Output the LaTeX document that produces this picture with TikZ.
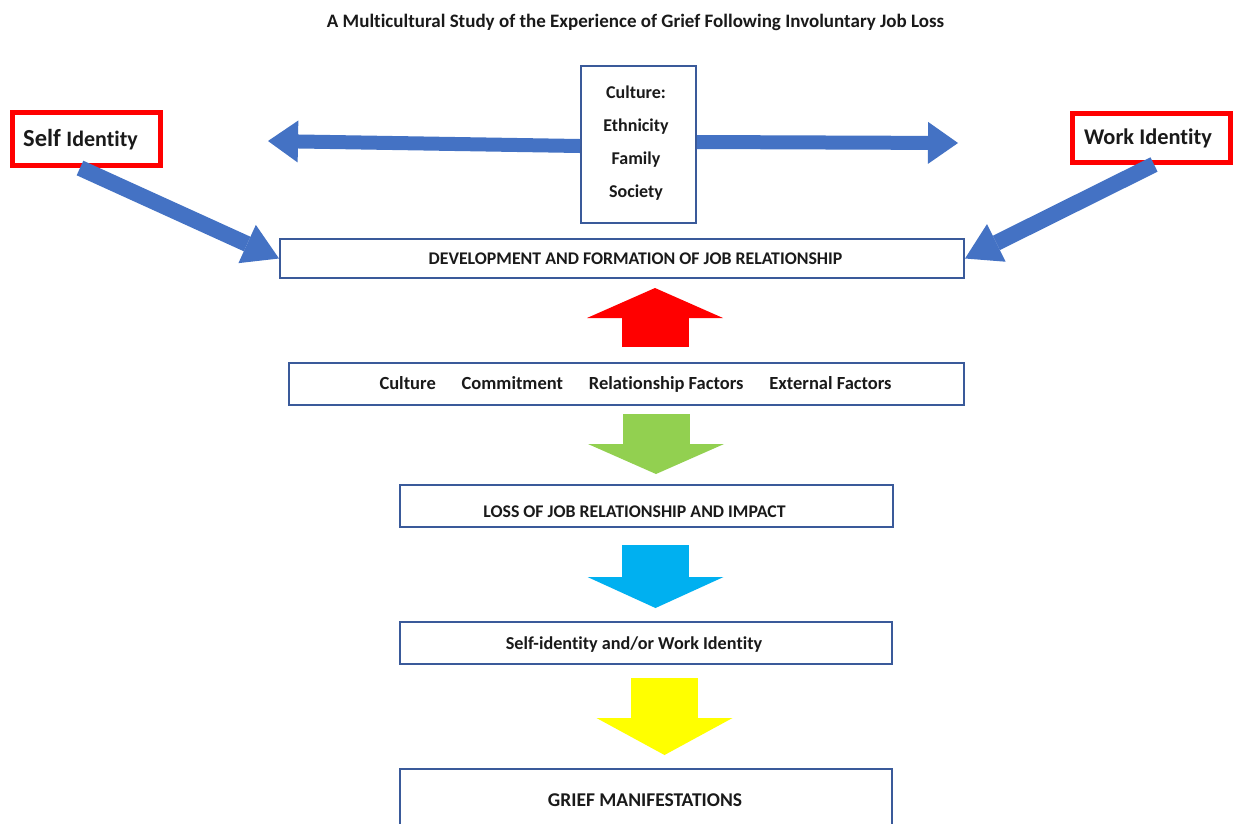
\documentclass[tikz,border=0pt]{standalone}
\usepackage{fontspec}
\setmainfont{Carlito}[Ligatures={NoCommon}]
\usetikzlibrary{arrows.meta}
\definecolor{boxblue}{HTML}{3A5A9A}
\definecolor{arrblue}{HTML}{4472C4}
\definecolor{arrred}{HTML}{FF0000}
\definecolor{arrgreen}{HTML}{92D050}
\definecolor{arrcyan}{HTML}{00B0F0}
\definecolor{arryellow}{HTML}{FFFF00}
\definecolor{txt}{HTML}{1A1A1A}
\tikzset{
  bluebox/.style={draw=boxblue,line width=2pt,fill=white,inner sep=0pt},
  redbox/.style={draw=arrred,line width=5pt,fill=white,inner sep=0pt},
  lbl/.style={inner sep=0pt,text=txt,font=\bfseries},
  thinarrow/.style={draw=arrblue,line width=14pt,-{Triangle[length=30pt,width=42pt,line width=0pt]}},
  diagarrow/.style={draw=arrblue,line width=16pt,-{Triangle[length=35pt,width=42pt,line width=0pt]}},
  blockarrow/.style={line width=67pt,-{Triangle[length=#1,width=136pt,line width=0pt]}}
}
\begin{document}
\begin{tikzpicture}[x=1pt,y=-1pt]
\useasboundingbox[fill=white] (0,0) rectangle (1233,823);
% title
\node[lbl,font=\bfseries\fontsize{19}{22}\selectfont] (title) at (635.5,22) {A Multicultural Study of the Experience of Grief Following Involuntary Job Loss};
% boxes
\node[bluebox,minimum width=115pt,minimum height=157pt] (culture) at (638.5,144.5) {};
\node[lbl,align=center,font=\bfseries\fontsize{18}{33}\selectfont] (cultureT) at (636,143) {Culture:\\Ethnicity\\Family\\Society};
\node[redbox,minimum width=148pt,minimum height=53pt] (selfid) at (86,139) {};
\node[lbl] (selfidT) at (80.5,140) {\fontsize{24.5}{28}\selectfont Self \fontsize{22}{28}\selectfont Identity};
\node[redbox,minimum width=158pt,minimum height=49pt] (workid) at (1151,137.5) {};
\node[lbl,font=\bfseries\fontsize{22.4}{26}\selectfont] (workidT) at (1148,138) {Work Identity};
\node[bluebox,minimum width=684pt,minimum height=39pt] (dev) at (622,258.5) {};
\node[lbl,font=\bfseries\fontsize{17.8}{20}\selectfont] (devT) at (635.5,259) {DEVELOPMENT AND FORMATION OF JOB RELATIONSHIP};
\node[bluebox,minimum width=675pt,minimum height=42pt] (factors) at (626.5,384) {};
\node[lbl,font=\bfseries\fontsize{18.5}{20}\selectfont] (factorsT) at (635.5,384) {Culture\hspace{1.4em}Commitment\hspace{1.4em}Relationship Factors\hspace{1.4em}External Factors};
\node[bluebox,minimum width=493pt,minimum height=42pt] (loss) at (646.5,506) {};
\node[lbl,font=\bfseries\fontsize{17.8}{20}\selectfont] (lossT) at (634.5,512) {LOSS OF JOB RELATIONSHIP AND IMPACT};
\node[bluebox,minimum width=492pt,minimum height=42pt] (selfwork) at (646,643) {};
\node[lbl,font=\bfseries\fontsize{18.2}{20}\selectfont] (selfworkT) at (634,645) {Self-identity and/or Work Identity};
\node[bluebox,minimum width=492pt,minimum height=61pt] (grief) at (646,799.5) {};
\node[lbl,font=\bfseries\fontsize{19.5}{22}\selectfont] (griefT) at (645,800) {GRIEF MANIFESTATIONS};
% free ends
\coordinate (leftTip) at (268,141);
\coordinate (rightTip) at (958,143);
\coordinate (redS) at (655,347);  \coordinate (redE) at (655,288);
\coordinate (greenS) at (656,414); \coordinate (greenE) at (656,474);
\coordinate (cyanS) at (655.5,545); \coordinate (cyanE) at (655.5,608);
\coordinate (yelS) at (664.5,678); \coordinate (yelE) at (664.5,755);
% blue arrows
\draw[thinarrow] (culture.west |- 0,146) -- (leftTip);
\draw[thinarrow] (culture.east |- 0,142) -- (rightTip);
\draw[diagarrow] (selfid.south -| 80,0) -- (dev.west);
\draw[diagarrow] (workid.south -| 1154,0) -- (dev.east);
% block arrows
\draw[blockarrow=30pt,draw=arrred] (redS) -- (redE);
\draw[blockarrow=30pt,draw=arrgreen] (greenS) -- (greenE);
\draw[blockarrow=31pt,draw=arrcyan] (cyanS) -- (cyanE);
\draw[blockarrow=37pt,draw=arryellow] (yelS) -- (yelE);
\end{tikzpicture}
\end{document}
